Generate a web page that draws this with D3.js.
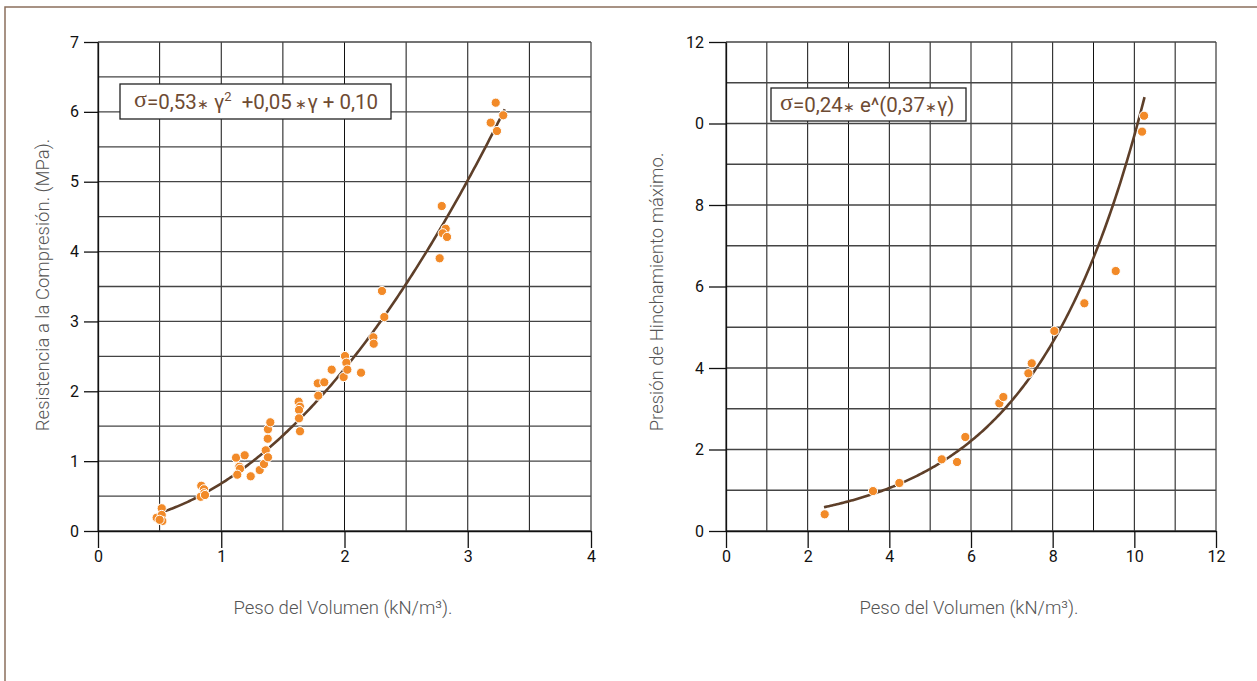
<!DOCTYPE html>
<html>
<head>
<meta charset="utf-8">
<script src="https://cdn.jsdelivr.net/npm/d3@7"></script>
<style>
  html, body { margin: 0; padding: 0; background: #fff; }
  svg { display: block; font-family: Roboto, "Noto Sans", sans-serif; }
  .eq { white-space: pre; }
</style>
</head>
<body>
<svg id="chart" width="1257" height="681"></svg>
<script>
// ---- Left panel: compressive strength vs. unit weight ----
const compGamma = [0.476, 0.517, 0.517, 0.522, 0.50, 0.838, 0.86, 0.86, 0.833, 0.868,
  1.12, 1.19, 1.146, 1.152, 1.13, 1.239, 1.312, 1.347, 1.361, 1.379, 1.377, 1.379, 1.398,
  1.628, 1.639, 1.631, 1.631, 1.639, 1.787, 1.783, 1.836, 1.896, 1.993, 2.004, 2.015, 2.023,
  2.134, 2.234, 2.237, 2.304, 2.323, 2.789, 2.821, 2.797, 2.832, 2.772, 3.227, 3.288, 3.186, 3.237];
const compSigma = [0.19, 0.325, 0.23, 0.143, 0.16, 0.648, 0.597, 0.54, 0.49, 0.515,
  1.05, 1.084, 0.92, 0.89, 0.806, 0.783, 0.873, 0.959, 1.155, 1.055, 1.321, 1.456, 1.556,
  1.851, 1.779, 1.732, 1.613, 1.427, 1.937, 2.114, 2.129, 2.309, 2.204, 2.505, 2.409, 2.309,
  2.266, 2.773, 2.681, 3.436, 3.063, 4.652, 4.327, 4.262, 4.209, 3.904, 6.131, 5.951, 5.845, 5.726];
// quadratic fit: sigma = a*g^2 + b*g + c
const compFit = [0.53, 0.05, 0.10];
const compFitRange = [0.52, 3.3];
const compXTicks = [0, 1, 2, 3, 4];
const compYTicks = [0, 1, 2, 3, 4, 5, 6, 7];
const compXTickLabels = ["0", "1", "2", "3", "4"];
const compYTickLabels = ["0", "1", "2", "3", "4", "5", "6", "7"];

// ---- Right panel: maximum swelling pressure vs. unit weight ----
const swellGamma = [2.417, 3.6, 4.245, 5.283, 5.658, 5.861, 6.694, 6.792, 7.405, 7.487, 8.041, 8.776, 9.544, 10.189, 10.238];
const swellSigma = [0.41, 0.98, 1.178, 1.759, 1.693, 2.307, 3.133, 3.288, 3.87, 4.115, 4.908, 5.588, 6.38, 9.8, 10.19];
// exponential fit: sigma = a * e^(b*g)
const swellFit = [0.24, 0.37];
const swellFitRange = [2.4, 10.25];
const swellXTicks = [0, 2, 4, 6, 8, 10, 12];
const swellYTicks = [0, 2, 4, 6, 8, 10, 12];
const swellXTickLabels = ["0", "2", "4", "6", "8", "10", "12"];
const swellYTickLabels = ["0", "2", "4", "6", "8", "0", "12"];

const xTitle = "Peso del Volumen (kN/m\u00B3).";
const compYTitle = "Resistencia a la Compresi\u00F3n. (MPa).";
const swellYTitle = "Presi\u00F3n de Hinchamiento m\u00E1ximo.";

const svg = d3.select("#chart");
svg.append("rect").attr("width", 1257).attr("height", 681).attr("fill", "#fff");

// outer frame (top and left edges)
svg.append("path")
  .attr("d", "M5,681 L5,7 L1257,7")
  .attr("fill", "none").attr("stroke", "#8b6f5c").attr("stroke-width", 1.5);

const BROWN = "#5e3f29";
const ORANGE = "#f28a28";

function panel(opt) {
  const x = d3.scaleLinear().domain(opt.xDomain).range(opt.xRange);
  const y = d3.scaleLinear().domain(opt.yDomain).range(opt.yRange);
  const g = svg.append("g");

  // grid
  const grid = g.append("g").attr("stroke", "#111").attr("stroke-width", 1);
  grid.selectAll("line.v").data(d3.range(opt.xDomain[0], opt.xDomain[1] + 1e-9, opt.xStep))
    .join("line").attr("class", "v")
    .attr("x1", d => x(d)).attr("x2", d => x(d))
    .attr("y1", y(opt.yDomain[0])).attr("y2", y(opt.yDomain[1]));
  grid.selectAll("line.h").data(d3.range(opt.yDomain[0], opt.yDomain[1] + 1e-9, opt.yStep))
    .join("line").attr("class", "h")
    .attr("y1", d => y(d)).attr("y2", d => y(d))
    .attr("x1", x(opt.xDomain[0])).attr("x2", x(opt.xDomain[1]))
    .attr("stroke", "#444").attr("stroke-width", 1.3);

  // axes
  const xAxis = d3.axisBottom(x).tickValues(opt.xTicks)
    .tickFormat((d, i) => opt.xTickLabels[i]).tickSize(17).tickPadding(3).tickSizeOuter(0);
  const yAxis = d3.axisLeft(y).tickValues(opt.yTicks)
    .tickFormat((d, i) => opt.yTickLabels[i]).tickSize(opt.yTickSize).tickPadding(5).tickSizeOuter(0);
  const gx = g.append("g").attr("transform", `translate(0,${y(opt.yDomain[0])})`).call(xAxis);
  const gy = g.append("g").attr("transform", `translate(${x(opt.xDomain[0])},0)`).call(yAxis);
  [gx, gy].forEach(a => {
    a.selectAll("path.domain").attr("stroke", "#111").attr("stroke-width", 1.3);
    a.selectAll(".tick line").attr("stroke", "#111").attr("stroke-width", 1.3);
    a.selectAll("text").attr("font-size", 16).attr("fill", "#111")
      .attr("font-family", "Roboto, sans-serif");
  });

  // axis titles
  g.append("text").text(xTitle)
    .attr("x", opt.xTitlePos[0]).attr("y", opt.xTitlePos[1])
    .attr("text-anchor", "middle").attr("font-size", 18.5).attr("font-weight", 300)
    .attr("fill", "#555");
  g.append("text").text(opt.yTitle)
    .attr("transform", `translate(${opt.yTitlePos[0]},${opt.yTitlePos[1]}) rotate(-90)`)
    .attr("text-anchor", "middle").attr("font-size", 18.5).attr("font-weight", 300)
    .attr("fill", "#555");

  // fitted curve
  const samples = d3.range(0, 201).map(i => opt.fitRange[0] + (opt.fitRange[1] - opt.fitRange[0]) * i / 200);
  g.append("path")
    .datum(samples.map(v => [v, opt.fit(v)]))
    .attr("fill", "none").attr("stroke", BROWN).attr("stroke-width", 2.6)
    .attr("d", d3.line().x(d => x(d[0])).y(d => y(d[1])));

  // observations
  g.append("g").selectAll("circle").data(opt.gx.map((v, i) => [v, opt.gy[i]]))
    .join("circle")
    .attr("cx", d => x(d[0])).attr("cy", d => y(d[1])).attr("r", 4.6)
    .attr("fill", ORANGE).attr("stroke", "#fff").attr("stroke-width", 1);

  // equation box
  const box = g.append("g");
  box.append("rect")
    .attr("x", opt.box[0]).attr("y", opt.box[1]).attr("width", opt.box[2]).attr("height", opt.box[3])
    .attr("fill", "#fff").attr("stroke", "#222").attr("stroke-width", 1.3);
  const t = box.append("text").attr("class", "eq")
    .attr("x", opt.box[0] + opt.textPad).attr("y", opt.box[1] + opt.box[3] / 2 + 7)
    .attr("font-size", 20.5).attr("fill", "#6e4b33");
  opt.eq.forEach(part => {
    const ts = t.append("tspan").text(part.t);
    if (part.serif) ts.attr("font-family", "'Liberation Serif', 'DejaVu Serif', serif").attr("font-size", 24).attr("dy", part.dy || 0);
    if (part.star) ts.attr("font-size", 14).attr("dy", part.dy || 0);
    if (part.sup) ts.attr("font-size", 13).attr("dy", -8);
    if (part.dy !== undefined && !part.serif && !part.star) ts.attr("dy", part.dy);
  });
}

panel({
  xDomain: [0, 4], xRange: [98, 591], yDomain: [0, 7], yRange: [531, 42],
  xStep: 0.5, yStep: 0.5,
  xTicks: compXTicks, yTicks: compYTicks, xTickLabels: compXTickLabels, yTickLabels: compYTickLabels,
  yTickSize: 14,
  xTitlePos: [343, 614], yTitle: compYTitle, yTitlePos: [49, 285],
  fit: v => compFit[0] * v * v + compFit[1] * v + compFit[2], fitRange: compFitRange,
  gx: compGamma, gy: compSigma,
  box: [120, 84, 271, 35], textPad: 14,
  eq: [
    { t: "\u03C3", serif: true, dy: -2 }, { t: "=0,53", dy: 2 }, { t: "\u2217", star: true }, { t: " \u03B3" },
    { t: "2", sup: true }, { t: "  +0,05", dy: 8 }, { t: " \u2217", star: true }, { t: "\u03B3 + 0,10" }
  ]
});

panel({
  xDomain: [0, 12], xRange: [726, 1216], yDomain: [0, 12], yRange: [531, 42],
  xStep: 1, yStep: 1,
  xTicks: swellXTicks, yTicks: swellYTicks, xTickLabels: swellXTickLabels, yTickLabels: swellYTickLabels,
  yTickSize: 17,
  xTitlePos: [969, 614], yTitle: swellYTitle, yTitlePos: [663, 292],
  fit: v => swellFit[0] * Math.exp(swellFit[1] * v), fitRange: swellFitRange,
  gx: swellGamma, gy: swellSigma,
  box: [771, 88, 195, 33], textPad: 9,
  eq: [
    { t: "\u03C3", serif: true, dy: -2 }, { t: "=0,24", dy: 2 }, { t: "\u2217", star: true }, { t: " e^(0,37" },
    { t: "\u2217", star: true }, { t: "\u03B3)" }
  ]
});
</script>
</body>
</html>
